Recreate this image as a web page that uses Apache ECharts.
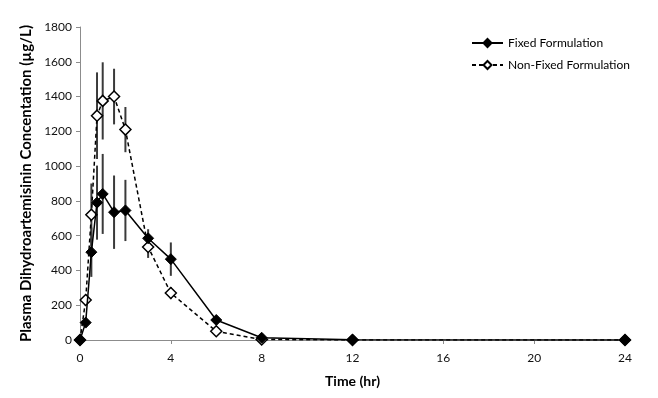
<!DOCTYPE html>
<html>
<head>
<meta charset="utf-8">
<script src="https://cdn.jsdelivr.net/npm/echarts@6/dist/echarts.min.js"></script>
<style>
  html, body { margin: 0; padding: 0; background: #fff; }
  #chart { width: 658px; height: 398px; }
</style>
</head>
<body>
<div id="chart"></div>
<script>
// sampling times (hr)
const times = [0, 0.25, 0.5, 0.75, 1, 1.5, 2, 3, 4, 6, 8, 12, 24]

// mean and SD, µg/L
const fixedMean = [0, 100, 505, 790, 840, 735, 745, 585, 465, 115, 13, 2, 0]
const fixedSD = [0, 25, 142, 213, 230, 211, 176, 52, 96, 15, 5, 0, 0]
const nonFixedMean = [0, 230, 720, 1290, 1375, 1400, 1210, 535, 270, 50, 3, 0, 0]
const nonFixedSD = [0, 20, 180, 249, 222, 160, 130, 63, 35, 10, 3, 0, 0]

const seriesNames = ['Fixed Formulation', 'Non-Fixed Formulation']
const font = 'Lato, "Open Sans", sans-serif'

const pairs = (ys) => times.map((t, i) => [t, ys[i]])
const bars = (ys, sd) => times.map((t, i) => [t, ys[i] - sd[i], ys[i] + sd[i]])

function errorBar(params, api) {
  const lo = api.coord([api.value(0), api.value(1)])
  const hi = api.coord([api.value(0), api.value(2)])
  return {
    type: 'line',
    shape: { x1: lo[0], y1: lo[1], x2: hi[0], y2: hi[1] },
    style: { stroke: '#3a3a3a', lineWidth: 2 },
  }
}

const chart = echarts.init(document.getElementById('chart'), null, { renderer: 'canvas' })

chart.setOption({
  animation: false,
  textStyle: { fontFamily: font },
  grid: { left: 80, right: 33, top: 27, bottom: 58 },
  legend: {
    orient: 'vertical',
    left: 466,
    top: 32,
    itemWidth: 31,
    itemHeight: 10,
    itemGap: 10,
    data: seriesNames,
    textStyle: { fontFamily: font, fontSize: 12, color: '#000' },
  },
  xAxis: {
    type: 'value',
    min: 0,
    max: 24,
    interval: 4,
    name: 'Time (hr)',
    nameLocation: 'middle',
    nameGap: 34,
    nameTextStyle: { fontFamily: font, fontSize: 14, fontWeight: 'bold', color: '#000' },
    axisLine: { lineStyle: { color: '#8c8c8c' } },
    axisTick: { length: 4, lineStyle: { color: '#8c8c8c' } },
    axisLabel: { fontSize: 12, color: '#111', margin: 12 },
    splitLine: { show: false },
  },
  yAxis: {
    type: 'value',
    min: 0,
    max: 1800,
    interval: 200,
    name: 'Plasma Dihydroartemisinin Concentation (µg/L)',
    nameLocation: 'middle',
    nameGap: 42,
    nameTextStyle: { fontFamily: font, fontSize: 15, fontWeight: 'bold', color: '#000' },
    axisLine: { show: true, lineStyle: { color: '#8c8c8c' } },
    axisTick: { show: true, length: 4, lineStyle: { color: '#8c8c8c' } },
    axisLabel: { fontSize: 12, color: '#111', margin: 8, formatter: (v) => String(v) },
    splitLine: { show: false },
  },
  series: [
    {
      type: 'custom',
      renderItem: errorBar,
      data: bars(fixedMean, fixedSD),
      z: 1,
      silent: true,
    },
    {
      type: 'custom',
      renderItem: errorBar,
      data: bars(nonFixedMean, nonFixedSD),
      z: 1,
      silent: true,
    },
    {
      name: seriesNames[1],
      type: 'line',
      data: pairs(nonFixedMean),
      symbol: 'diamond',
      symbolSize: 11,
      lineStyle: { color: '#000', width: 1.5, type: [4, 3] },
      itemStyle: { color: '#fff', borderColor: '#000', borderWidth: 1.5 },
      z: 3,
    },
    {
      name: seriesNames[0],
      type: 'line',
      data: pairs(fixedMean),
      symbol: 'diamond',
      symbolSize: 11,
      lineStyle: { color: '#000', width: 1.5 },
      itemStyle: { color: '#000', borderColor: '#000', borderWidth: 1 },
      z: 4,
    },
  ],
})
</script>
</body>
</html>
